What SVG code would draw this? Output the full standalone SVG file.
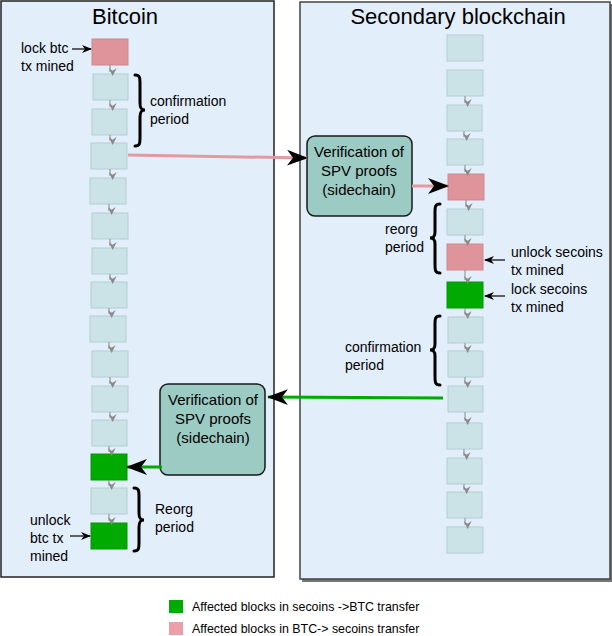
<svg xmlns="http://www.w3.org/2000/svg" width="612" height="636" viewBox="0 0 612 636">
<defs>
<style>
text{font-family:"Liberation Sans",Arial,sans-serif;fill:#000}
.panel{fill:#e3eefb;stroke:#222;stroke-width:1.5}
.blk{fill:#cbe2e7;stroke:#b3ced4;stroke-width:1}
.pink{fill:#df939a;stroke:#d08890;stroke-width:1}
.green{fill:#00aa00;stroke:#009900;stroke-width:1}
.box{fill:#9ccbc3;stroke:#1a1a1a;stroke-width:1.5}
.lbl{font-size:14px}
.title{font-size:22px}
.vtxt{font-size:15px;text-anchor:middle}
.leg{font-size:12.4px}
.chain{stroke:#8a8a8a;stroke-width:1;fill:none;marker-end:url(#chev)}
.brace{fill:none;stroke:#000;stroke-width:3;stroke-linecap:round}
.small{stroke:#000;stroke-width:1.2;fill:none;marker-end:url(#sm)}
</style>
<marker id="chev" markerUnits="userSpaceOnUse" markerWidth="8" markerHeight="8" refX="3" refY="5" orient="auto-start-reverse" viewBox="0 0 6 6">
<path d="M0,0 L3,6 L6,0 L3,2 z" fill="#8a8a8a" transform="rotate(-90 3 3)"/>
</marker>
<marker id="big" markerUnits="userSpaceOnUse" markerWidth="22" markerHeight="18" refX="20" refY="8" orient="auto" viewBox="0 0 22 16">
<path d="M0,0 L21,8 L0,16 L6,8 z" fill="#000"/>
</marker>
<marker id="sm" markerUnits="userSpaceOnUse" markerWidth="10" markerHeight="8" refX="9" refY="4" orient="auto" viewBox="0 0 10 8">
<path d="M0,0 L10,4 L0,8 L3,4 z" fill="#000"/>
</marker>
</defs>

<g id="bitcoin-panel">
<rect class="panel" x="1" y="1" width="273" height="576"/>
<text class="title" x="125" y="24" text-anchor="middle">Bitcoin</text>
</g>
<g id="secondary-panel">
<rect x="302" y="4" width="310" height="578" fill="#777"/>
<rect class="panel" x="300" y="2" width="310" height="577" style="stroke:#444"/>
<text class="title" x="458" y="24" text-anchor="middle">Secondary blockchain</text>
</g>

<g id="btc-blocks">
<rect id="b1" class="pink" x="92" y="39" width="36" height="26"/>
<rect id="b2" class="blk" x="93" y="74" width="35" height="26"/>
<rect id="b3" class="blk" x="92" y="109" width="35" height="26"/>
<rect id="b4" class="blk" x="91" y="143" width="36" height="26"/>
<rect id="b5" class="blk" x="90" y="178" width="36" height="26"/>
<rect id="b6" class="blk" x="92" y="213" width="36" height="26"/>
<rect id="b7" class="blk" x="92" y="248" width="35" height="26"/>
<rect id="b8" class="blk" x="91" y="282" width="36" height="26"/>
<rect id="b9" class="blk" x="90" y="316" width="36" height="26"/>
<rect id="b10" class="blk" x="92" y="351" width="36" height="26"/>
<rect id="b11" class="blk" x="92" y="386" width="36" height="26"/>
<rect id="b12" class="blk" x="92" y="420" width="35" height="26"/>
<rect id="b13" class="green" x="91" y="454" width="36" height="26"/>
<rect id="b14" class="blk" x="91" y="488" width="36" height="26"/>
<rect id="b15" class="green" x="91" y="523" width="36" height="26"/>
</g>

<g id="side-blocks">
<rect id="s1" class="blk" x="447" y="35" width="36" height="26"/>
<rect id="s2" class="blk" x="447" y="70" width="36" height="26"/>
<rect id="s3" class="blk" x="447" y="105" width="35" height="26"/>
<rect id="s4" class="blk" x="447" y="139" width="36" height="26"/>
<rect id="s5" class="pink" x="448" y="174" width="36" height="26"/>
<rect id="s6" class="blk" x="447" y="209" width="36" height="26"/>
<rect id="s7" class="pink" x="447" y="244" width="36" height="26"/>
<rect id="s8" class="green" x="447" y="282" width="36" height="26"/>
<rect id="s9" class="blk" x="448" y="317" width="35" height="26"/>
<rect id="s10" class="blk" x="448" y="351" width="35" height="26"/>
<rect id="s11" class="blk" x="448" y="386" width="35" height="26"/>
<rect id="s12" class="blk" x="447" y="423" width="35" height="26"/>
<rect id="s13" class="blk" x="447" y="458" width="35" height="26"/>
<rect id="s14" class="blk" x="447" y="492" width="35" height="26"/>
<rect id="s15" class="blk" x="447" y="527" width="36" height="26"/>
</g>

<g id="verify-1">
<rect class="box" x="307" y="136" width="105" height="80" rx="8"/>
<text class="vtxt" x="359" y="157">Verification of</text>
<text class="vtxt" x="359" y="176">SPV proofs</text>
<text class="vtxt" x="359" y="195">(sidechain)</text>
</g>
<g id="verify-2">
<rect class="box" x="160" y="384" width="105" height="91" rx="8"/>
<text class="vtxt" x="213" y="405">Verification of</text>
<text class="vtxt" x="213" y="424">SPV proofs</text>
<text class="vtxt" x="213" y="443">(sidechain)</text>
</g>

<g id="labels">
<text class="lbl" x="21" y="53">lock btc</text>
<text class="lbl" x="21" y="71">tx mined</text>
<text class="lbl" x="150" y="106">confirmation</text>
<text class="lbl" x="150" y="124">period</text>
<text class="lbl" x="155" y="514">Reorg</text>
<text class="lbl" x="155" y="532">period</text>
<text class="lbl" x="30" y="525">unlock</text>
<text class="lbl" x="30" y="543">btc tx</text>
<text class="lbl" x="30" y="561">mined</text>
<text class="lbl" x="385" y="234">reorg</text>
<text class="lbl" x="385" y="252">period</text>
<text class="lbl" x="511" y="257">unlock secoins</text>
<text class="lbl" x="511" y="275">tx mined</text>
<text class="lbl" x="511" y="294">lock secoins</text>
<text class="lbl" x="511" y="312">tx mined</text>
<text class="lbl" x="345" y="352">confirmation</text>
<text class="lbl" x="345" y="370">period</text>
</g>

<g id="braces">
<path class="brace" d="M135,75 C140,75 140,78 140,83 L140,103 C140,108 141,110 145,110 C141,110 140,112 140,117 L140,138 C140,143 140,146 135,146"/>
<path class="brace" d="M134,488 C139,488 139,491 139,496 L139,513 C139,518 140,520 144,520 C140,520 139,522 139,527 L139,543 C139,548 139,551 134,551"/>
<path class="brace" d="M440,204 C435,204 435,207 435,212 L435,232 C435,236 434,238 430,238 C434,238 435,240 435,244 L435,265 C435,270 435,273 440,273"/>
<path class="brace" d="M440,316 C435,316 435,319 435,324 L435,344 C435,348 434,350 430,350 C434,350 435,352 435,356 L435,377 C435,382 435,385 440,385"/>
</g>

<g id="connectors">
<path class="chain" d="M110,65 L110,72"/>
<path class="chain" d="M110,100 L110,107"/>
<path class="chain" d="M110,135 L110,141"/>
<path class="chain" d="M110,169 L110,176"/>
<path class="chain" d="M109,204 L109,211"/>
<path class="chain" d="M110,239 L110,246"/>
<path class="chain" d="M110,274 L110,280"/>
<path class="chain" d="M109,308 L109,314"/>
<path class="chain" d="M109,342 L109,349"/>
<path class="chain" d="M110,377 L110,384"/>
<path class="chain" d="M110,412 L110,418"/>
<path class="chain" d="M109,446 L109,452"/>
<path class="chain" d="M109,480 L109,486"/>
<path class="chain" d="M109,514 L109,521"/>
<path class="chain" d="M465,96 L465,103"/>
<path class="chain" d="M464,131 L464,137"/>
<path class="chain" d="M465,165 L465,172"/>
<path class="chain" d="M466,200 L466,207"/>
<path class="chain" d="M465,235 L465,242"/>
<path class="chain" d="M465,270 L465,280"/>
<path class="chain" d="M465,308 L465,315"/>
<path class="chain" d="M465,343 L465,349"/>
<path class="chain" d="M465,377 L465,384"/>
<path class="chain" d="M465,412 L465,421"/>
<path class="chain" d="M464,449 L464,456"/>
<path class="chain" d="M464,484 L464,490"/>
<path class="chain" d="M465,518 L465,525"/>
<path d="M128,155 L307,158" stroke="#e3999f" stroke-width="3" fill="none" marker-end="url(#big)"/>
<path d="M412,186 L448,186" stroke="#e3999f" stroke-width="3" fill="none" marker-end="url(#big)"/>
<path d="M443,398 L268,397" stroke="#00aa00" stroke-width="3" fill="none" marker-end="url(#big)"/>
<path d="M162,467 L127,467" stroke="#00aa00" stroke-width="3" fill="none" marker-end="url(#big)"/>
<path class="small" d="M72,49 L91,49"/>
<path class="small" d="M505,260 L485,260"/>
<path class="small" d="M505,296 L485,296"/>
<path class="small" d="M70,536 L90,536"/>
</g>

<g id="legend">
<rect x="169" y="600" width="14" height="13" fill="#00aa00"/>
<text class="leg" x="192" y="611">Affected blocks in secoins -&gt;BTC transfer</text>
<rect x="169" y="622" width="14" height="13" fill="#eaa0a6"/>
<text class="leg" x="192" y="633">Affected blocks in BTC-&gt; secoins transfer</text>
</g>
</svg>
